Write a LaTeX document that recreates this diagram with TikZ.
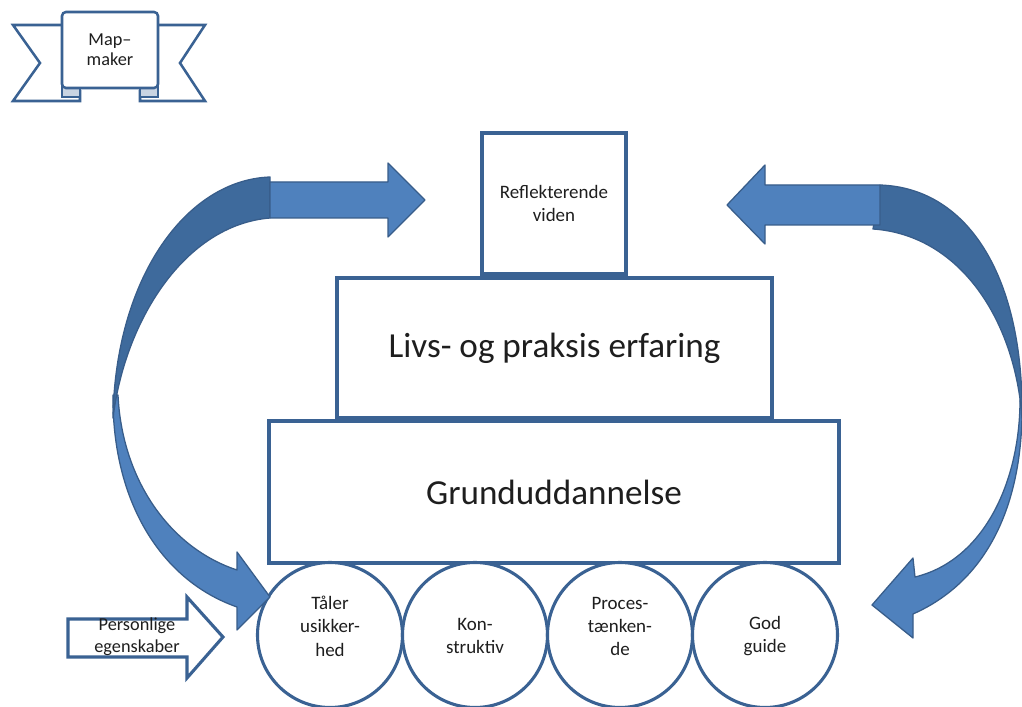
\documentclass[tikz,border=0pt]{standalone}
\usepackage{fontspec}
\setmainfont{Carlito}
\definecolor{Frame}{HTML}{3A6293}
\definecolor{Face}{HTML}{4F81BD}
\definecolor{Back}{HTML}{3E6A9C}
\definecolor{Edge}{HTML}{385D8A}
\definecolor{Fold}{HTML}{C9D4E2}
\definecolor{Ink}{HTML}{1E1E1E}
\usetikzlibrary{positioning}
\tikzset{
  tier/.style={draw=Frame,fill=white,line width=2.2pt,inner sep=0pt,text=Ink,align=center},
  pebble/.style={circle,draw=Frame,fill=white,line width=2.2pt,minimum size=36.25mm,inner sep=0pt},
  small/.style={font=\fontsize{13.5}{16.5}\selectfont,text=Ink,align=center},
  big/.style={font=\fontsize{25}{30}\selectfont},
  frontface/.style={fill=Face,draw=Edge,line width=0.9pt,line join=round},
  backface/.style={fill=Back,draw=Edge,line width=0.9pt,line join=round},
  hollow/.style={fill=white,draw=Frame,line width=2.2pt,line join=miter}
}
\begin{document}
\begin{tikzpicture}[x=0.25mm,y=-0.25mm]
  \fill[white] (0,0) rectangle (1022,707);
  \useasboundingbox (0,0) rectangle (1022,707);

  % banner
  \draw[hollow,line width=1.8pt] (62,25) -- (13,25) -- (40,63) -- (13,101) -- (80,101) -- (80,90);
  \draw[hollow,line width=1.8pt] (158,25) -- (205,25) -- (180,63) -- (205,101) -- (140,101) -- (140,90);
  \draw[draw=Frame,fill=Fold,line width=1.8pt] (62,86) rectangle (80,97);
  \draw[draw=Frame,fill=Fold,line width=1.8pt] (140,86) rectangle (158,97);
  \node[tier,small,line width=1.8pt,rounded corners=1mm,minimum width=24mm,minimum height=19mm,
    font=\fontsize{13}{14.5}\selectfont] (mapbox) at (110,50) {Map–\\maker};

  % stacked boxes
  \node[tier,big,minimum width=142.5mm,minimum height=35.5mm] (grund) at (554,492) {Grunduddannelse};
  \node[tier,big,minimum width=108.75mm,minimum height=35mm] (livs) at (554.5,348) {Livs- og praksis erfaring};
  \node[tier,small,minimum width=36mm,minimum height=35.25mm] (refl) at (554,203.5) {Reflekterende\\viden};

  % circles
  \node[pebble] (p1) at (330,635) {};
  \node[pebble] (p2) at (475,635) {};
  \node[pebble] (p3) at (620,635) {};
  \node[pebble] (p4) at (765,635) {};
  \node[small] at ([yshift=2.2mm]p1) {Tåler\\usikker-\\hed};
  \node[small] at ([yshift=-0.3mm]p2) {Kon-\\struktiv};
  \node[small] at ([yshift=2.2mm]p3) {Proces-\\tænken-\\de};
  \node[small] at ([yshift=-0.3mm]p4) {God\\guide};

  % left loop arrow
  \draw[frontface] (113,395) .. controls (112,500) and (160,580) .. (237,607)
    -- (237,630) -- (270,597) -- (237,552) -- (237,570)
    .. controls (170,548) and (122,480) .. (118,395) -- cycle;
  \draw[backface] (270,177) .. controls (185,180) and (115,280) .. (113,418)
    .. controls (125,320) and (185,225) .. (270,218) -- cycle;
  \draw[frontface] (270,182) -- (388,182) -- (388,163) -- (425,200) -- (388,237) -- (388,218) -- (270,218) -- cycle;

  % right loop arrow
  \draw[frontface] (1022,400) .. controls (1024,500) and (990,580) .. (913,614)
    -- (913,638) -- (872,605) -- (913,558) -- (915,577)
    .. controls (985,560) and (1020,480) .. (1020,400) -- cycle;
  \draw[backface] (880,185) .. controls (970,188) and (1024,280) .. (1022,418)
    .. controls (1015,320) and (960,235) .. (873,229) -- cycle;
  \draw[frontface] (880,185) -- (765,185) -- (765,165) -- (727,205) -- (765,244) -- (765,225) -- (880,225) -- cycle;

  % personal traits arrow
  \draw[hollow] (68,619) -- (187,619) -- (187,597) -- (223,637) -- (187,678) -- (187,657) -- (68,657) -- cycle;
  \node[small,font=\fontsize{13}{15.5}\selectfont] (traits) at (137,637) {Personlige\\egenskaber};
\end{tikzpicture}
\end{document}
